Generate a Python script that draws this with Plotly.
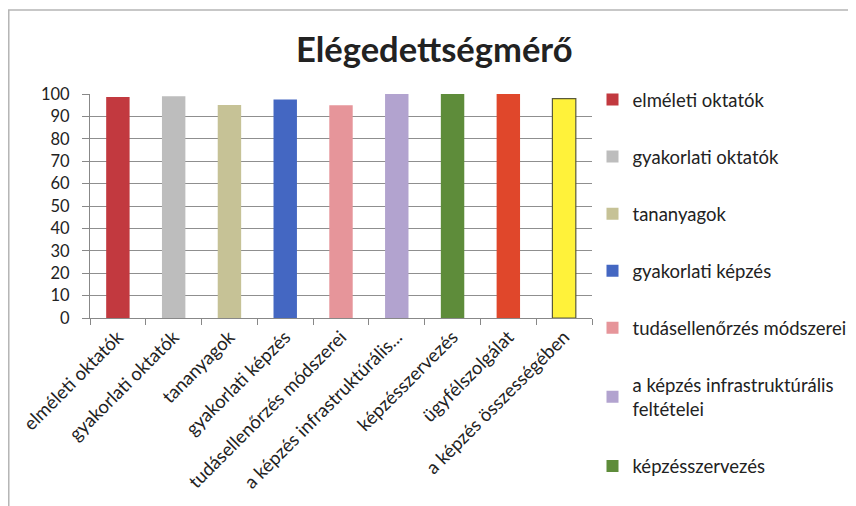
import plotly.graph_objects as go

categories = ["elméleti oktatók", "gyakorlati oktatók", "tananyagok", "gyakorlati képzés",
              "tudásellenőrzés módszerei", "a képzés infrastruktúrális...", "képzésszervezés",
              "ügyfélszolgálat", "a képzés összességében"]
legend_names = ["elméleti oktatók", "gyakorlati oktatók", "tananyagok", "gyakorlati képzés",
                "tudásellenőrzés módszerei", "a képzés infrastruktúrális<br>feltételei", "képzésszervezés",
                "ügyfélszolgálat", "a képzés összességében"]
values = [98.7, 99.0, 95.1, 97.5, 95.0, 100, 100, 100, 97.9]
colors = ["#C2393F", "#BDBDBD", "#C6C296", "#4467C2", "#E6959A", "#B2A3CF", "#5E8C3A", "#E0472B", "#FFF23A"]
legend_shown = [True, True, True, True, True, True, True, False, False]
y_ticks = [0, 10, 20, 30, 40, 50, 60, 70, 80, 90, 100]

FONT = "Lato"

fig = go.Figure()
for i, (cat, name, val, col, show) in enumerate(zip(categories, legend_names, values, colors, legend_shown)):
    fig.add_trace(go.Bar(
        x=[cat], y=[val], name=name, legendgroup=f"g{i}", showlegend=show,
        marker=dict(color=col,
                    line=dict(color="#5a5a3a" if i == 8 else col, width=1.2 if i == 8 else 0)),
        width=0.42,
    ))

fig.update_layout(
    width=856, height=506,
    margin=dict(l=82, r=272, t=86, b=196, autoexpand=False),
    paper_bgcolor="white", plot_bgcolor="white",
    barmode="overlay",
    title=dict(text="<b>Elégedettségmérő</b>", x=0.498, xref="container", y=0.917, yref="container",
               xanchor="center", yanchor="middle", automargin=False,
               font=dict(family=FONT, size=34.5, color="#222222")),
    font=dict(family=FONT, color="#222222"),
    legend=dict(x=1.001, xanchor="left", y=1.058, yanchor="top",
                traceorder="grouped", tracegroupgap=30, maxheight=1.0,
                font=dict(family=FONT, size=18.5, color="#222222"),
                itemwidth=30, bgcolor="rgba(0,0,0,0)"),
    showlegend=True,
)
fig.update_xaxes(
    type="category", categoryorder="array", categoryarray=categories, automargin=False,
    tickangle=-45, tickfont=dict(family=FONT, size=18.5, color="#222222"),
    showline=True, linecolor="#888888", linewidth=1,
    ticks="outside", tickson="boundaries", ticklen=6, tickcolor="#888888",
    showgrid=False,
)
fig.update_yaxes(
    range=[0, 100], tickvals=y_ticks, automargin=False,
    tickfont=dict(family=FONT, size=16.5, color="#222222"),
    showline=True, linecolor="#888888", linewidth=1,
    ticks="outside", ticklen=7, tickcolor="#888888", ticklabelstandoff=9,
    showgrid=True, gridcolor="#8f8f8f", gridwidth=1, zeroline=False,
)
fig.add_shape(type="rect", xref="paper", yref="paper",
              x0=-0.1618, x1=1.6, y0=-1.0, y1=1.375,
              line=dict(color="#b5b5b5", width=1.5), fillcolor="rgba(0,0,0,0)", layer="below")

fig.write_html("out.html")
